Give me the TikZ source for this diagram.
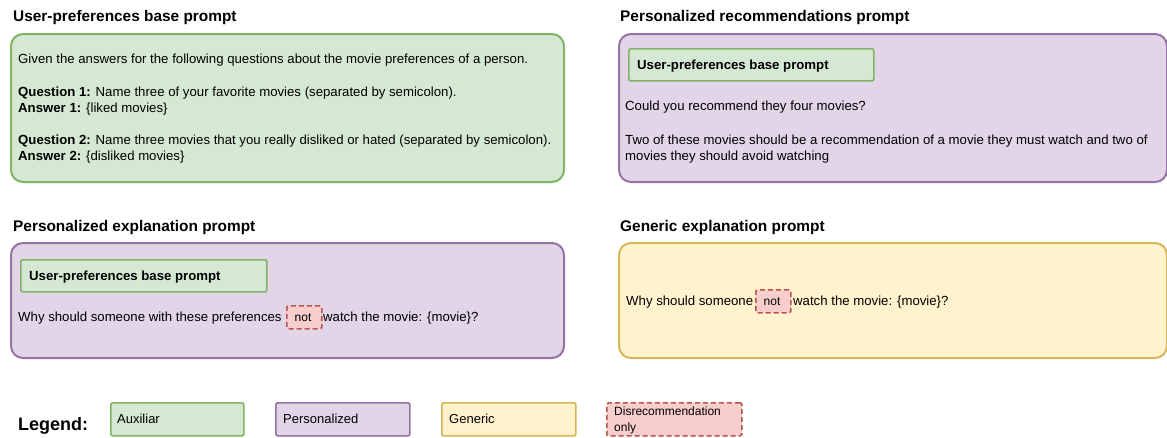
\documentclass[tikz,border=0pt]{standalone}
\usepackage{fontspec}
\setmainfont{Liberation Sans}
\definecolor{gfill}{HTML}{D5E8D4}\definecolor{gdraw}{HTML}{82B366}
\definecolor{pfill}{HTML}{E1D5E7}\definecolor{pdraw}{HTML}{9673A6}
\definecolor{yfill}{HTML}{FFF2CC}\definecolor{ydraw}{HTML}{D6B656}
\definecolor{rfill}{HTML}{F8CECC}\definecolor{rdraw}{HTML}{B85450}
\begin{document}
\begin{tikzpicture}[x=1pt,y=-1pt,
  bigbox/.style={rounded corners=12pt, line width=2pt, anchor=north west, inner sep=0pt},
  gbig/.style={bigbox, fill=gfill, draw=gdraw},
  pbig/.style={bigbox, fill=pfill, draw=pdraw},
  ybig/.style={bigbox, fill=yfill, draw=ydraw},
  smallbox/.style={rounded corners=2pt, line width=1.7pt, anchor=north west, inner sep=0pt},
  gsmall/.style={smallbox, fill=gfill, draw=gdraw},
  psmall/.style={smallbox, fill=pfill, draw=pdraw},
  ysmall/.style={smallbox, fill=yfill, draw=ydraw},
  rsmall/.style={smallbox, fill=rfill, draw=rdraw, dash pattern=on 5pt off 3pt},
  title/.style={anchor=base west, inner sep=0pt, font=\fontsize{15.4}{18}\selectfont\bfseries},
  txt/.style={anchor=base west, inner sep=0pt, font=\fontsize{13.2}{16}\selectfont},
  ltxt/.style={anchor=base west, inner sep=0pt, font=\fontsize{13}{16}\selectfont},
  stxt/.style={anchor=base west, inner sep=0pt, font=\fontsize{12}{14}\selectfont},
  btxt/.style={anchor=base west, inner sep=0pt, font=\fontsize{13.2}{16}\selectfont\bfseries},
]
\useasboundingbox (0,0) rectangle (1167,437);

% Box 1
\node[title] (t1) at (13,21) {User-preferences base prompt};
\node[gbig, minimum width=553pt, minimum height=148pt] (b1) at (10,33) {};
\node[txt] (l1) at (18,63) {Given the answers for the following questions about the movie preferences of a person.};
\node[txt] (l2) at (18,96) {\textbf{Question 1:} Name three of your favorite movies (separated by semicolon).};
\node[txt] (l3) at (18,112) {\textbf{Answer 1:} \{liked movies\}};
\node[txt] (l4) at (18,144) {\textbf{Question 2:} Name three movies that you really disliked or hated (separated by semicolon).};
\node[txt] (l5) at (18,160) {\textbf{Answer 2:} \{disliked movies\}};

% Box 2
\node[title] (t2) at (620,21) {Personalized recommendations prompt};
\node[pbig, minimum width=548pt, minimum height=148pt] (b2) at (618,33) {};
\node[gsmall, minimum width=245pt, minimum height=32pt] (i2) at (628,48) {};
\node[btxt] (i2t) at (637,69) {User-preferences base prompt};
\node[txt] (m1) at (625,110) {Could you recommend they four movies?};
\node[txt] (m2) at (625,144) {Two of these movies should be a recommendation of a movie they must watch and two of};
\node[txt] (m3) at (625,160) {movies they should avoid watching};

% Box 3
\node[title] (t3) at (13,231) {Personalized explanation prompt};
\node[pbig, minimum width=553pt, minimum height=115pt] (b3) at (10,242) {};
\node[gsmall, minimum width=246pt, minimum height=32pt] (i3) at (20,259) {};
\node[btxt] (i3t) at (29,280) {User-preferences base prompt};
\node[rsmall, minimum width=35pt, minimum height=23pt] (n3) at (286,305) {};
\node[txt] (p1) at (18,321) {Why should someone with these preferences};
\node[stxt, anchor=base] (n3t) at (303,321) {not};
\node[txt] (p2) at (323,321) {watch the movie: \{movie\}?};

% Box 4
\node[title] (t4) at (620,231) {Generic explanation prompt};
\node[ybig, minimum width=548pt, minimum height=115pt] (b4) at (618,242) {};
\node[rsmall, minimum width=35pt, minimum height=23pt] (n4) at (755,289) {};
\node[txt] (q1) at (626,305) {Why should someone};
\node[stxt, anchor=base] (n4t) at (772,305) {not};
\node[txt] (q2) at (793,305) {watch the movie: \{movie\}?};

% Legend
\node[anchor=base west, inner sep=0pt, font=\fontsize{18}{20}\selectfont\bfseries] (lg) at (18,430) {Legend:};
\node[gsmall, minimum width=133pt, minimum height=33pt] (la) at (110,402) {};
\node[ltxt] (lat) at (117,423) {Auxiliar};
\node[psmall, minimum width=134pt, minimum height=33pt] (lp) at (275,402) {};
\node[ltxt] (lpt) at (283,423) {Personalized};
\node[ysmall, minimum width=134pt, minimum height=33pt] (ly) at (441,402) {};
\node[ltxt] (lyt) at (449,423) {Generic};
\node[rsmall, minimum width=135pt, minimum height=33pt] (lr) at (606,402) {};
\node[stxt] (lrt1) at (614,415) {Disrecommendation};
\node[stxt] (lrt2) at (614,431) {only};
\end{tikzpicture}
\end{document}
